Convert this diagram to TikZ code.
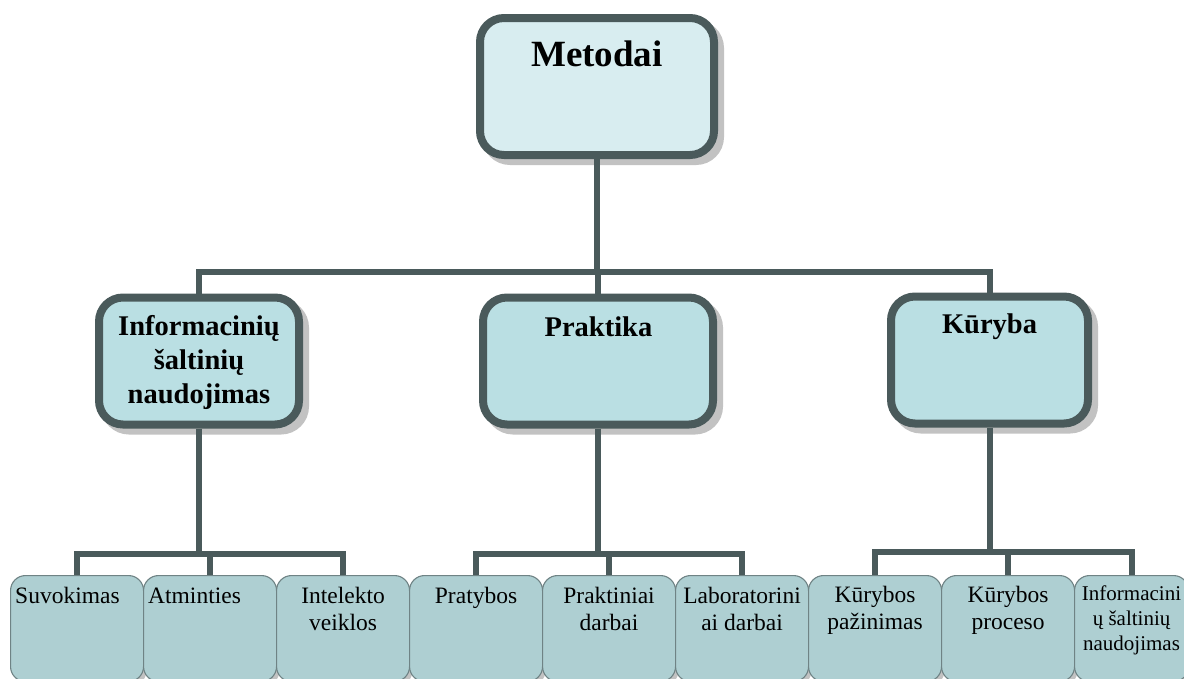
\documentclass[tikz,border=0pt]{standalone}
\usepackage{fontspec}
\setmainfont{Liberation Serif}
\usetikzlibrary{shadows}
\definecolor{linec}{HTML}{4A5A5B}
\definecolor{topfill}{HTML}{D8EDF0}
\definecolor{midfill}{HTML}{BADFE3}
\definecolor{lowfill}{HTML}{AECFD2}
\definecolor{lowline}{HTML}{6F8385}
\definecolor{shadowc}{HTML}{C2C2C2}
\begin{document}
\begin{tikzpicture}[x=1pt,y=-1pt,
 bigbox/.style={draw=linec, line width=8pt, rounded corners=24pt, inner sep=0pt,
   general shadow={draw=shadowc, fill=shadowc, line width=8pt, shadow xshift=6pt, shadow yshift=-6pt}},
 topbox/.style={bigbox, fill=topfill},
 midbox/.style={bigbox, fill=midfill, minimum height=127pt},
 lowbox/.style={draw=lowline, line width=1.1pt, fill=lowfill, rounded corners=15pt,
   minimum width=133pt, minimum height=106pt, inner sep=0pt, anchor=north west,
   general shadow={fill=shadowc, shadow xshift=3pt, shadow yshift=-4pt}},
 conn/.style={draw=linec, line width=6pt},
 toptext/.style={font=\fontsize{37}{44}\selectfont\bfseries, anchor=base, inner sep=0pt},
 midtext/.style={font=\fontsize{28.5}{34}\selectfont\bfseries, align=center, anchor=base, inner sep=0pt},
 lowtext/.style={font=\fontsize{23.5}{27}\selectfont, align=center, anchor=base, inner sep=0pt},
 smalltext/.style={font=\fontsize{21}{25}\selectfont, align=center, anchor=base, inner sep=0pt},
]
\useasboundingbox (0,0) rectangle (1184,678);
\clip (0,0) rectangle (1184,678);

% boxes
\node[topbox, minimum width=234pt, minimum height=137pt] (top) at (597,86.5) {};
\node[midbox, minimum width=200pt] (m1) at (199,361) {};
\node[midbox, minimum width=230pt] (m2) at (598,361) {};
\node[midbox, minimum width=197pt] (m3) at (989.5,360) {};

\node[lowbox] (l1) at (10,575) {};
\node[lowbox] (l2) at (143,575) {};
\node[lowbox] (l3) at (276,575) {};
\node[lowbox] (l4) at (409,575) {};
\node[lowbox] (l5) at (542,575) {};
\node[lowbox] (l6) at (675,575) {};
\node[lowbox] (l7) at (808,575) {};
\node[lowbox] (l8) at (941,575) {};
\node[lowbox, minimum width=114pt] (l9) at (1074,575) {};

% connectors
\coordinate (j0) at (597,272);
\draw[conn] (top.south) -- (j0);
\draw[conn] (m1.north) |- (j0) -| (m3.north);
\draw[conn] (m2.north) -- (m2.north |- j0);

\coordinate (j1) at (m1.south |- 0,554);
\draw[conn] (m1.south) -- (j1);
\draw[conn] (l1.north) |- (j1) -| (l3.north);
\draw[conn] (l2.north) -- (l2.north |- j1);

\coordinate (j2) at (m2.south |- 0,554);
\draw[conn] (m2.south) -- (j2);
\draw[conn] (l4.north) |- (j2) -| (l6.north);
\draw[conn] (l5.north) -- (l5.north |- j2);

\coordinate (j3) at (m3.south |- 0,552);
\draw[conn] (m3.south) -- (j3);
\draw[conn] (l7.north) |- (j3) -| (l9.north);
\draw[conn] (l8.north) -- (l8.north |- j3);

% texts (base anchor = baseline of the last line)
\node[toptext] (t0) at (597,66) {Metodai};
\node[midtext] (t1) at (199,403) {Informacinių\\šaltinių\\naudojimas};
\node[midtext] (t2) at (598.5,336) {Praktika};
\node[midtext] (t3) at (989.5,333) {Kūryba};

\node[lowtext, anchor=base west] (s1) at (15,603) {Suvokimas};
\node[lowtext, anchor=base west] (s2) at (148,603) {Atminties};
\node[lowtext] (s3) at ([yshift=-55pt]l3.north) {Intelekto\\veiklos};
\node[lowtext] (s4) at ([yshift=-28pt]l4.north) {Pratybos};
\node[lowtext] (s5) at ([yshift=-55pt]l5.north) {Praktiniai\\darbai};
\node[lowtext] (s6) at ([yshift=-55pt]l6.north) {Laboratorini\\ai darbai};
\node[lowtext] (s7) at ([yshift=-54pt]l7.north) {Kūrybos\\pažinimas};
\node[lowtext] (s8) at ([yshift=-54pt]l8.north) {Kūrybos\\proceso};
\node[smalltext] (s9) at ([yshift=-75pt]l9.north) {Informacini\\ų šaltinių\\naudojimas};
\end{tikzpicture}
\end{document}
